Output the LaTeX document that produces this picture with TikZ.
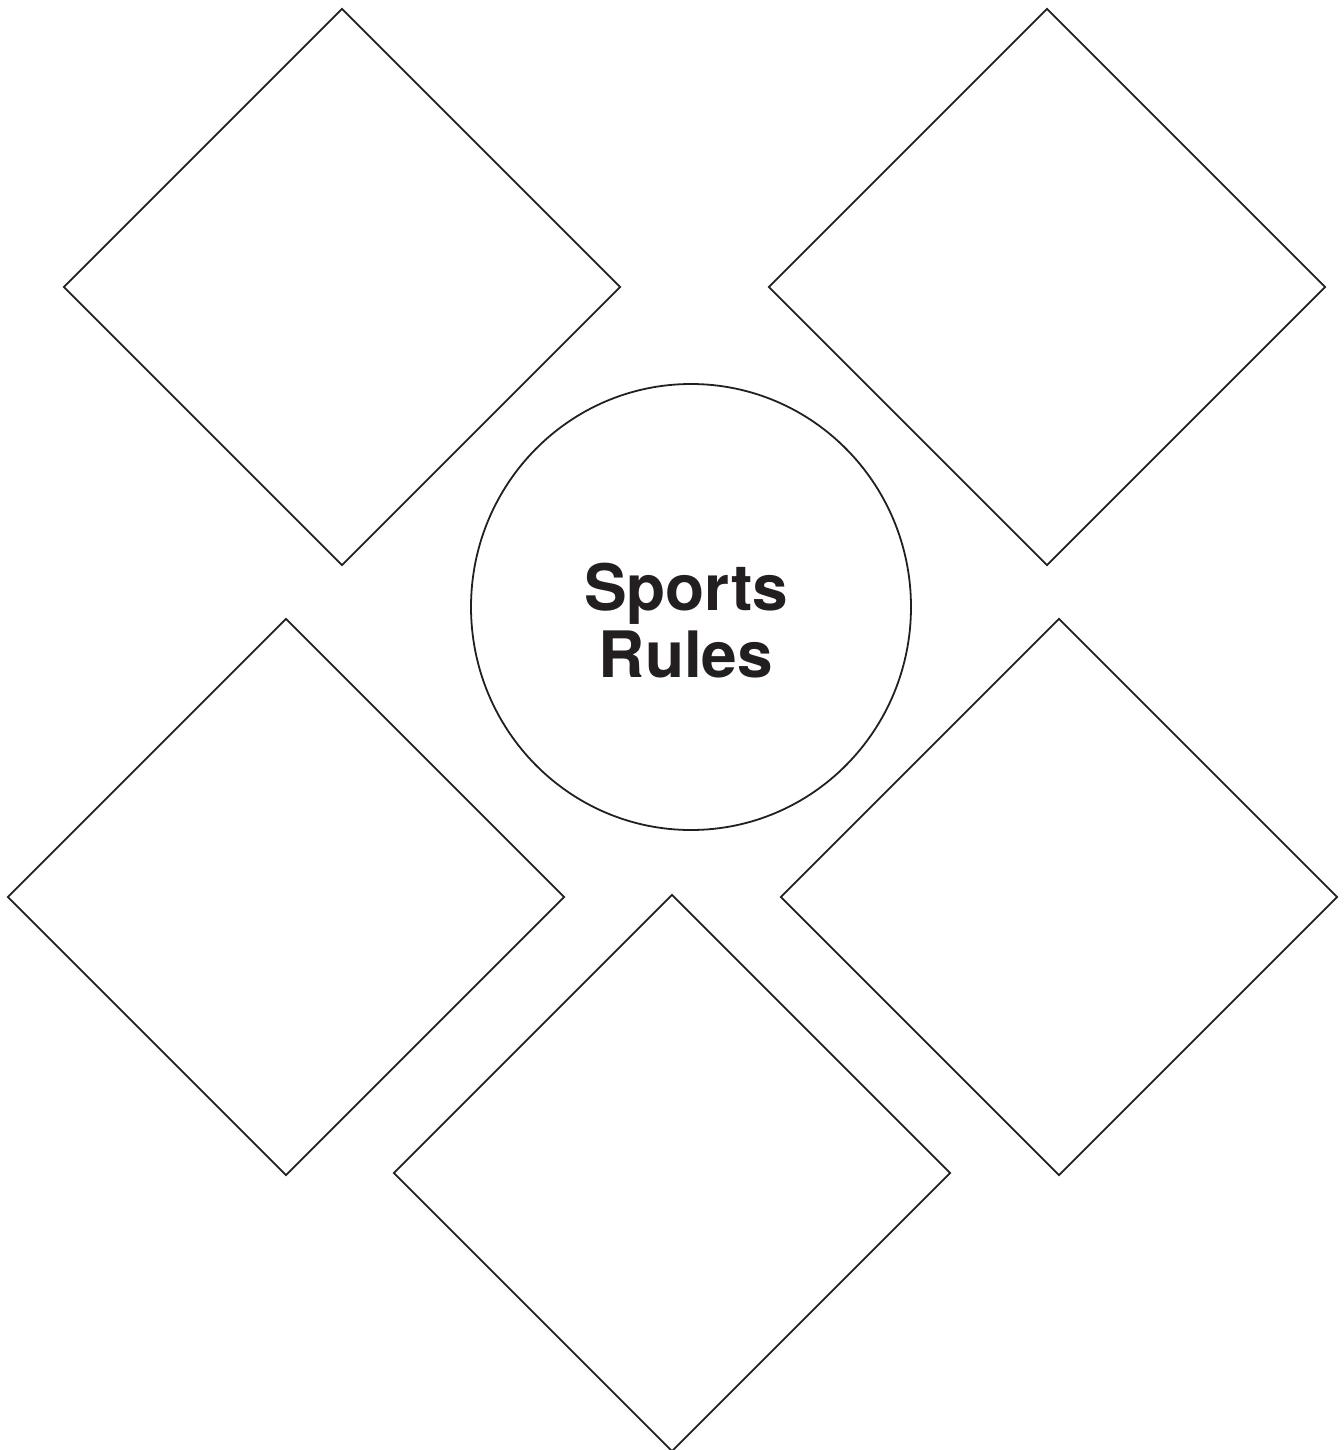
\documentclass[tikz,border=0pt]{standalone}
\usepackage{fontspec}
\setmainfont{TeX Gyre Heros}
\usetikzlibrary{shapes.geometric}
\definecolor{ink}{HTML}{231F20}
\begin{document}
\begin{tikzpicture}[x=1pt,y=1pt,
  dbox/.style={draw=ink,line width=1.8pt,shape=diamond,aspect=1,inner sep=0pt,minimum width=557pt,minimum height=557pt},
  hub/.style={draw=ink,line width=1.8pt,ellipse,inner sep=0pt,minimum width=440pt,minimum height=446pt},
  hubtext/.style={align=center,inner sep=0pt,font=\fontsize{64}{67}\selectfont\bfseries,text=ink}]
\fill[white] (0,0) rectangle (1343,-1450);
\useasboundingbox (0,0) rectangle (1343,-1450);
\node[dbox] (d1) at (342,-287) {};
\node[dbox] (d2) at (1047,-287) {};
\node[dbox] (d3) at (286,-897) {};
\node[dbox] (d4) at (1059,-897) {};
\node[dbox] (d5) at (672,-1173) {};
\node[hub] (c) at (691,-607) {};
\node[hubtext] (t) at (686,-621) {Sports\\Rules};
\end{tikzpicture}
\end{document}
